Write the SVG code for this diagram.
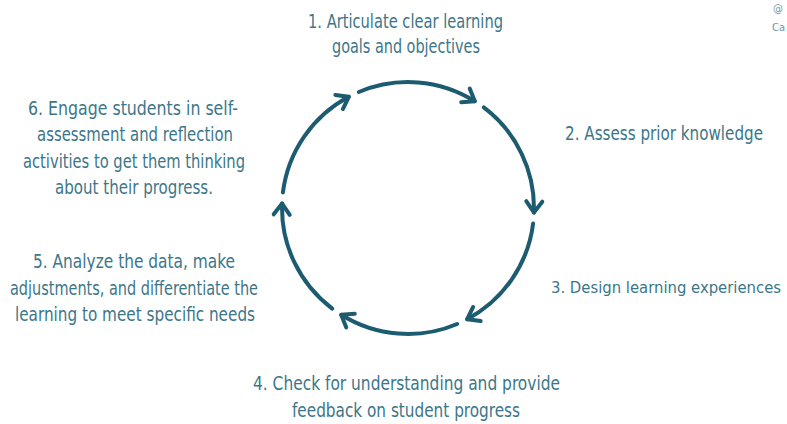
<svg xmlns="http://www.w3.org/2000/svg" width="787" height="424" viewBox="0 0 787 424">
<style>
.t{font-family:"DejaVu Sans Condensed","DejaVu Sans","Liberation Sans",sans-serif;font-size:19px;fill:#3c7689;}
.s{font-family:"DejaVu Sans Condensed","DejaVu Sans",sans-serif;font-size:11px;fill:#6d98a6;}
.arc{fill:none;stroke:#1d5b70;stroke-width:4;stroke-linecap:round;}
</style>
<defs>
<marker id="ah" markerUnits="userSpaceOnUse" markerWidth="30" markerHeight="30" refX="0" refY="0" viewBox="-15 -15 30 30" orient="auto">
<path d="M-11,-8 L0,0 L-11,8" fill="none" stroke="#1d5b70" stroke-width="4" stroke-linecap="round" stroke-linejoin="round"/>
</marker>
</defs>
<rect width="787" height="424" fill="#ffffff"/>
<g id="connectors">
<path class="arc" marker-end="url(#ah)" d="M358.8,92.0 A126,126 0 0 1 474.8,101.2"/>
<path class="arc" marker-end="url(#ah)" d="M483.8,107.4 A126,126 0 0 1 533.9,212.4"/>
<path class="arc" marker-end="url(#ah)" d="M533.1,223.4 A126,126 0 0 1 467.2,319.2"/>
<path class="arc" marker-end="url(#ah)" d="M457.2,324.0 A126,126 0 0 1 341.2,314.8"/>
<path class="arc" marker-end="url(#ah)" d="M332.2,308.6 A126,126 0 0 1 282.1,203.6"/>
<path class="arc" marker-end="url(#ah)" d="M282.9,192.6 A126,126 0 0 1 348.8,96.8"/>
</g>
<g id="step1">
<text class="t" x="308" y="28" textLength="195" lengthAdjust="spacingAndGlyphs">1. Articulate clear learning</text>
<text class="t" x="332" y="53" textLength="148" lengthAdjust="spacingAndGlyphs">goals and objectives</text>
</g>
<g id="step2">
<text class="t" x="565" y="140" textLength="198" lengthAdjust="spacingAndGlyphs">2. Assess prior knowledge</text>
</g>
<g id="step3">
<text class="t" x="551" y="293" style="font-size:16.5px" textLength="230" lengthAdjust="spacingAndGlyphs">3. Design learning experiences</text>
</g>
<g id="step4">
<text class="t" x="253" y="390" textLength="307" lengthAdjust="spacingAndGlyphs">4. Check for understanding and provide</text>
<text class="t" x="292" y="417" textLength="228" lengthAdjust="spacingAndGlyphs">feedback on student progress</text>
</g>
<g id="step5">
<text class="t" x="33" y="268" textLength="202" lengthAdjust="spacingAndGlyphs">5. Analyze the data, make</text>
<text class="t" x="10" y="295" textLength="248" lengthAdjust="spacingAndGlyphs">adjustments, and differentiate the</text>
<text class="t" x="15" y="321" textLength="240" lengthAdjust="spacingAndGlyphs">learning to meet specific needs</text>
</g>
<g id="step6">
<text class="t" x="28" y="115" textLength="210" lengthAdjust="spacingAndGlyphs">6. Engage students in self-</text>
<text class="t" x="37" y="141" textLength="196" lengthAdjust="spacingAndGlyphs">assessment and reflection</text>
<text class="t" x="23" y="168" textLength="222" lengthAdjust="spacingAndGlyphs">activities to get them thinking</text>
<text class="t" x="55" y="194" textLength="158" lengthAdjust="spacingAndGlyphs">about their progress.</text>
</g>
<g id="corner">
<text class="s" x="773" y="12">@</text>
<text class="s" x="772" y="31">Ca</text>
</g>
</svg>
